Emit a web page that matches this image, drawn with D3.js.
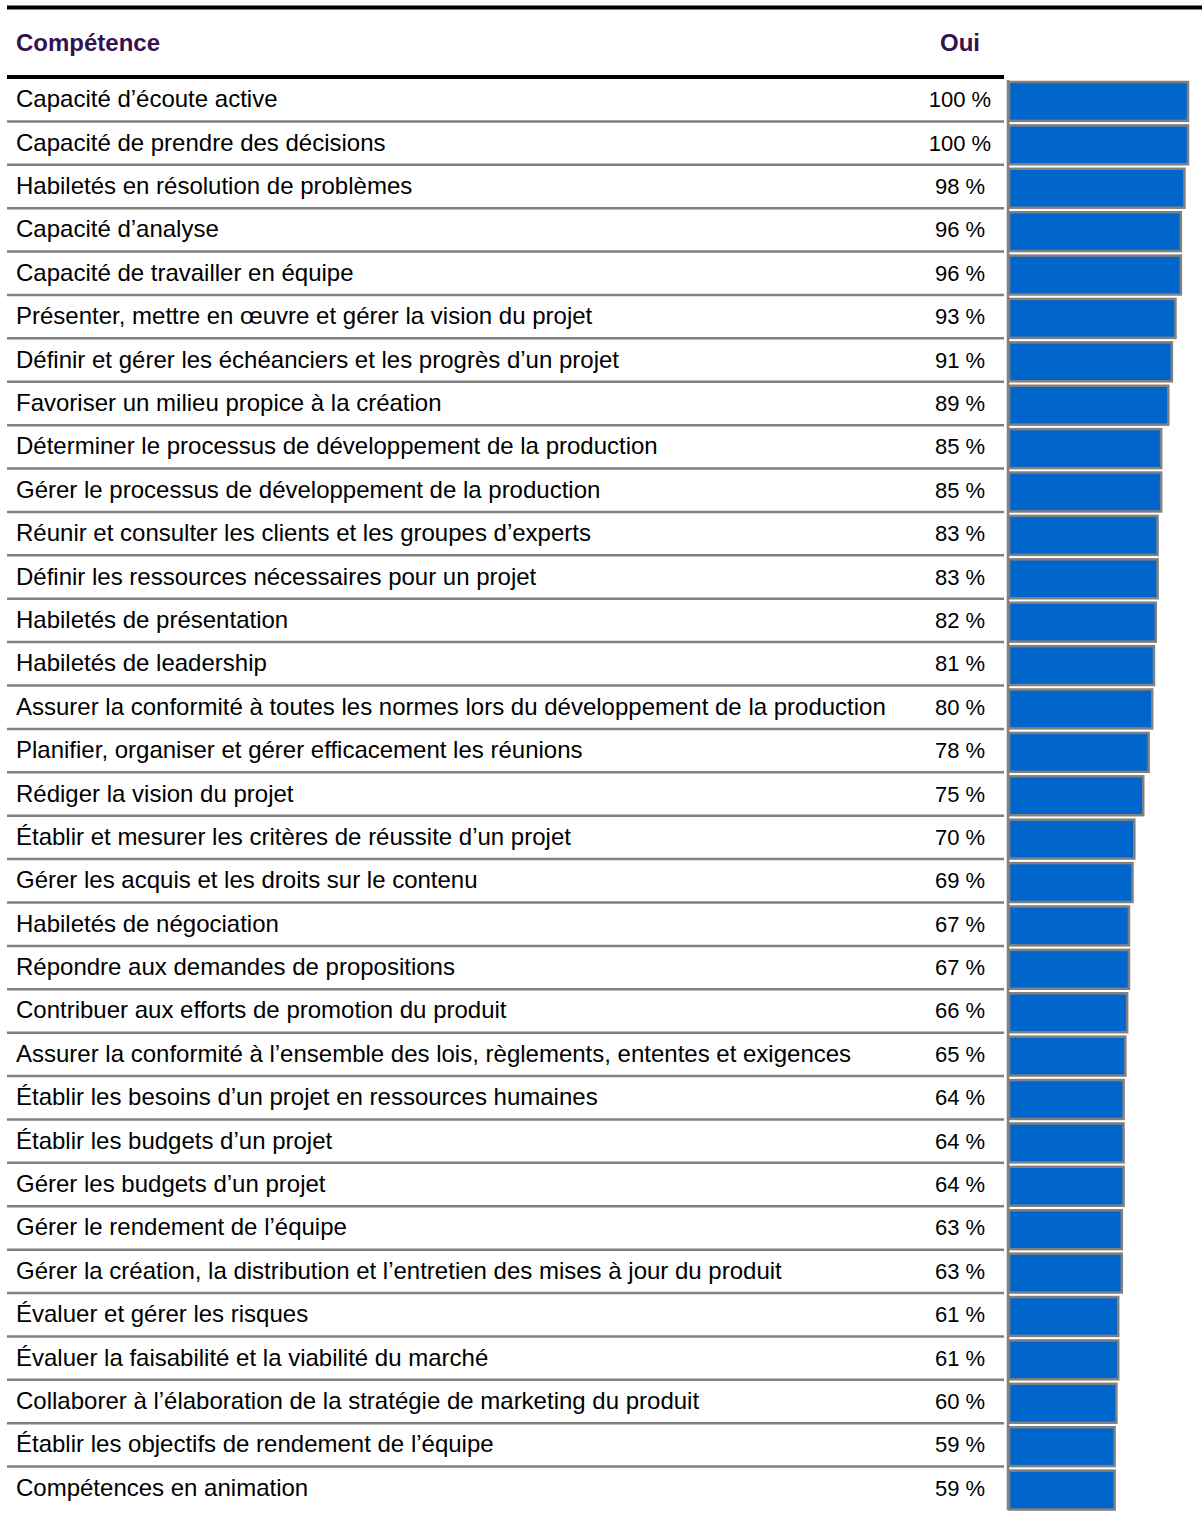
<!DOCTYPE html>
<html>
<head>
<meta charset="utf-8">
<script src="https://cdn.jsdelivr.net/npm/d3@7"></script>
<style>
  body { margin: 0; background: #fff; }
  svg text { font-family: "Liberation Sans", Arial, sans-serif; }
</style>
</head>
<body>
<div id="plot"></div>
<script>
// competences and share answering "Oui"
const competences = [
  "Capacité d’écoute active",
  "Capacité de prendre des décisions",
  "Habiletés en résolution de problèmes",
  "Capacité d’analyse",
  "Capacité de travailler en équipe",
  "Présenter, mettre en œuvre et gérer la vision du projet",
  "Définir et gérer les échéanciers et les progrès d’un projet",
  "Favoriser un milieu propice à la création",
  "Déterminer le processus de développement de la production",
  "Gérer le processus de développement de la production",
  "Réunir et consulter les clients et les groupes d’experts",
  "Définir les ressources nécessaires pour un projet",
  "Habiletés de présentation",
  "Habiletés de leadership",
  "Assurer la conformité à toutes les normes lors du développement de la production",
  "Planifier, organiser et gérer efficacement les réunions",
  "Rédiger la vision du projet",
  "Établir et mesurer les critères de réussite d’un projet",
  "Gérer les acquis et les droits sur le contenu",
  "Habiletés de négociation",
  "Répondre aux demandes de propositions",
  "Contribuer aux efforts de promotion du produit",
  "Assurer la conformité à l’ensemble des lois, règlements, ententes et exigences",
  "Établir les besoins d’un projet en ressources humaines",
  "Établir les budgets d’un projet",
  "Gérer les budgets d’un projet",
  "Gérer le rendement de l’équipe",
  "Gérer la création, la distribution et l’entretien des mises à jour du produit",
  "Évaluer et gérer les risques",
  "Évaluer la faisabilité et la viabilité du marché",
  "Collaborer à l’élaboration de la stratégie de marketing du produit",
  "Établir les objectifs de rendement de l’équipe",
  "Compétences en animation"
];
const ouiValues = [100, 100, 98, 96, 96, 93, 91, 89, 85, 85, 83, 83, 82, 81, 80, 78, 75, 70, 69, 67, 67, 66, 65, 64, 64, 64, 63, 63, 61, 61, 60, 59, 59];

const data = competences.map((c, i) => ({ name: c, value: ouiValues[i] }));

const width = 1202, height = 1518;

const svg = d3.select("#plot").append("svg")
  .attr("width", width)
  .attr("height", height);

const y = d3.scaleBand()
  .domain(competences)
  .range([78, 1510])
  .padding(0);

const x = d3.scaleLinear()
  .domain([0, 100])
  .range([1009, 1188]);

// top rule and header
svg.append("line")
  .attr("x1", 7).attr("x2", width)
  .attr("y1", 7.5).attr("y2", 7.5)
  .attr("stroke", "#000").attr("stroke-width", 4);

svg.append("text")
  .attr("x", 16).attr("y", 51)
  .attr("font-size", 24)
  .attr("font-weight", "bold")
  .attr("fill", "#35124f")
  .text("Compétence");

svg.append("text")
  .attr("x", 960).attr("y", 51)
  .attr("text-anchor", "middle")
  .attr("font-size", 24)
  .attr("font-weight", "bold")
  .attr("fill", "#35124f")
  .text("Oui");

svg.append("line")
  .attr("x1", 7).attr("x2", 1004)
  .attr("y1", 77).attr("y2", 77)
  .attr("stroke", "#000").attr("stroke-width", 4);

// row separators
svg.selectAll("line.sep")
  .data(data.slice(0, -1))
  .enter().append("line")
  .attr("class", "sep")
  .attr("x1", 7).attr("x2", 1004)
  .attr("y1", d => y(d.name) + y.bandwidth())
  .attr("y2", d => y(d.name) + y.bandwidth())
  .attr("stroke", "#808080").attr("stroke-width", 2.5);

// row labels
svg.selectAll("text.label")
  .data(data)
  .enter().append("text")
  .attr("class", "label")
  .attr("x", 16)
  .attr("y", d => y(d.name) + y.bandwidth() / 2 + 7.5)
  .attr("font-size", 24)
  .attr("fill", "#000")
  .text(d => d.name);

// values
svg.selectAll("text.value")
  .data(data)
  .enter().append("text")
  .attr("class", "value")
  .attr("x", 960)
  .attr("y", d => y(d.name) + y.bandwidth() / 2 + 7.5)
  .attr("text-anchor", "middle")
  .attr("font-size", 22)
  .attr("fill", "#000")
  .text(d => d.value + " %");

// bars
svg.selectAll("rect.bar")
  .data(data)
  .enter().append("rect")
  .attr("class", "bar")
  .attr("x", x(0))
  .attr("y", d => y(d.name) + 4)
  .attr("width", d => x(d.value) - x(0))
  .attr("height", y.bandwidth() - 4.5)
  .attr("fill", "#0066cc")
  .attr("stroke", "#808080")
  .attr("stroke-width", 2.5);

// vertical axis line
svg.append("line")
  .attr("x1", 1008).attr("x2", 1008)
  .attr("y1", 80).attr("y2", 1510)
  .attr("stroke", "#808080").attr("stroke-width", 2.5);
</script>
</body>
</html>
